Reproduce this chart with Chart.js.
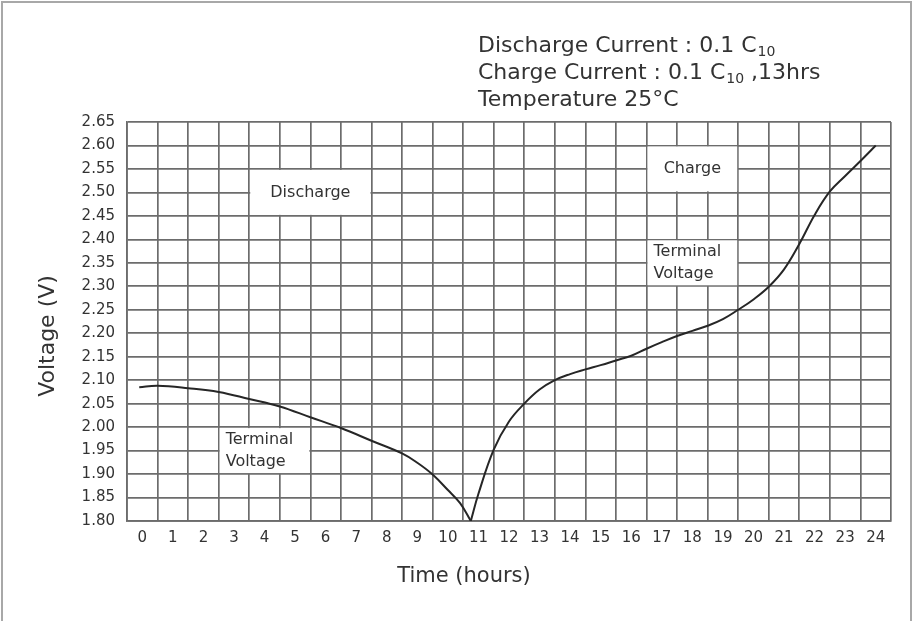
<!DOCTYPE html>
<html>
<head>
<meta charset="utf-8">
<title>Discharge / charge terminal voltage</title>
<script src="https://cdn.jsdelivr.net/npm/chart.js@4/dist/chart.umd.min.js"></script>
<style>
  html, body { margin: 0; padding: 0; background: #fff; }
  canvas { display: block; }
</style>
</head>
<body>
<canvas id="voltageChart" width="913" height="621"></canvas>
<script>
// values (hours, volts)
const dischargeTime = [-0.1, 0.5, 1.5, 2.5, 3.5, 4.5, 5.5, 6.5, 7.5, 8.5, 9.0, 9.5, 10.0, 10.4, 10.75];
const dischargeVolt = [2.085, 2.088, 2.083, 2.075, 2.060, 2.044, 2.021, 1.998, 1.971, 1.944, 1.924, 1.899, 1.866, 1.838, 1.800];
const chargeTime = [10.75, 11.0, 11.5, 12.0, 12.5, 13.0, 13.5, 14.0, 14.5, 15.0, 15.5, 16.0, 16.5, 17.0, 17.5, 18.0,
  18.5, 19.0, 19.5, 20.0, 20.5, 21.0, 21.5, 22.0, 22.5, 23.0, 23.5, 24.0];
const chargeVolt = [1.800, 1.858, 1.952, 2.012, 2.050, 2.080, 2.100, 2.113, 2.123, 2.132, 2.142, 2.152, 2.167, 2.181, 2.194, 2.205,
  2.216, 2.230, 2.250, 2.272, 2.299, 2.336, 2.390, 2.452, 2.502, 2.535, 2.567, 2.600];

const xTicks = [0, 1, 2, 3, 4, 5, 6, 7, 8, 9, 10, 11, 12, 13, 14, 15, 16, 17, 18, 19, 20, 21, 22, 23, 24];
const yTicks = [1.80, 1.85, 1.90, 1.95, 2.00, 2.05, 2.10, 2.15, 2.20, 2.25, 2.30, 2.35, 2.40, 2.45, 2.50, 2.55, 2.60, 2.65];

const headerLines = [
  ["Discharge Current : 0.1 C", "10", ""],
  ["Charge Current : 0.1 C", "10", " ,13hrs"],
  ["Temperature 25°C", "", ""]
];

// labelled boxes on the grid: [x1, x2, y1, y2, lines, align]
const noteBoxes = [
  [3.5, 7.5, 2.45, 2.55, ["Discharge"], "center"],
  [2.5, 5.5, 1.90, 2.00, ["Terminal", "Voltage"], "left"],
  [16.5, 19.5, 2.50, 2.60, ["Charge"], "center"],
  [16.5, 19.5, 2.30, 2.40, ["Terminal", "Voltage"], "left"]
];

const gridColor = "#6c6c6c";
const textColor = "#333";
const lineColor = "#262626";
const font = "DejaVu Sans";

// x grid sits between the hour labels
const gridX = [];
for (let i = 0; i <= 50; i++) gridX.push(-0.5 + i * 0.5);

function toPoints(xs, ys) {
  return xs.map((t, i) => ({ x: t, y: ys[i] }));
}

const notes = {
  id: "notes",
  beforeDatasetsDraw(chart) {
    const c = chart.ctx;
    const xs = chart.scales.x;
    const ys = chart.scales.y;
    c.save();
    noteBoxes.forEach((b) => {
      const l = xs.getPixelForValue(b[0]);
      const r = xs.getPixelForValue(b[1]);
      const t = ys.getPixelForValue(b[3]);
      const btm = ys.getPixelForValue(b[2]);
      c.fillStyle = "#fff";
      c.fillRect(l + 1, t + 1, r - l - 2, btm - t - 2);
      c.fillStyle = textColor;
      c.font = "16px '" + font + "'";
      c.textBaseline = "middle";
      const mid = (t + btm) / 2;
      const lh = 22;
      b[4].forEach((line, i) => {
        const y = mid + (i - (b[4].length - 1) / 2) * lh;
        if (b[5] == "center") {
          c.textAlign = "center";
          c.fillText(line, (l + r) / 2, y);
        } else {
          c.textAlign = "left";
          c.fillText(line, l + 7, y);
        }
      });
    });
    c.restore();
  },
  afterDraw(chart) {
    const c = chart.ctx;
    c.save();
    // frame
    c.strokeStyle = "#a8a8a8";
    c.lineWidth = 2;
    c.beginPath();
    c.moveTo(2, 621);
    c.lineTo(2, 2);
    c.lineTo(911, 2);
    c.lineTo(911, 621);
    c.stroke();

    c.fillStyle = textColor;
    c.textBaseline = "alphabetic";
    c.textAlign = "left";
    // header
    headerLines.forEach((h, i) => {
      const y = 52 + i * 27;
      let x = 478;
      c.font = "22px '" + font + "'";
      c.fillText(h[0], x, y);
      x += c.measureText(h[0]).width + 1;
      if (h[1]) {
        c.font = "14px '" + font + "'";
        c.fillText(h[1], x, y + 4);
        x += c.measureText(h[1]).width;
      }
      if (h[2]) {
        c.font = "22px '" + font + "'";
        c.fillText(h[2], x, y);
      }
    });
    // axis titles
    c.font = "21px '" + font + "'";
    c.textAlign = "center";
    c.textBaseline = "middle";
    c.fillText("Time (hours)", 464, 577);
    c.font = "22px '" + font + "'";
    c.translate(48, 336);
    c.rotate(-Math.PI / 2);
    c.fillText("Voltage (V)", 0, 0);
    c.restore();
  }
};

const lineStyle = {
  borderColor: lineColor,
  borderWidth: 2,
  pointRadius: 0,
  tension: 0.4,
  fill: false,
};

const ctx = document.getElementById("voltageChart");
const chart = new Chart(ctx, {
  type: "line",
  data: {
    datasets: [
      Object.assign({ label: "Discharge", data: toPoints(dischargeTime, dischargeVolt) }, lineStyle),
      Object.assign({ label: "Charge", data: toPoints(chargeTime, chargeVolt) }, lineStyle),
    ],
  },
  options: {
    responsive: false,
    animation: false,
    layout: { padding: { top: 122, right: 22, left: 0, bottom: 0 } },
    plugins: { legend: { display: false }, tooltip: { enabled: false } },
    scales: {
      x: {
        type: "linear",
        min: -0.5,
        max: 24.5,
        afterBuildTicks: (s) => {
          s.ticks = gridX.map((v) => ({ value: v }));
        },
        afterFit: (s) => {
          s.height = 100;
        },
        ticks: {
          autoSkip: false,
          maxRotation: 0,
          padding: 8,
          color: textColor,
          font: { family: font, size: 15 },
          callback: (v) => (xTicks.includes(v) ? String(v) : ""),
        },
        grid: {
          drawTicks: false,
          lineWidth: 1.7,
          color: (c) => (Number.isInteger(c.tick.value) ? "rgba(0,0,0,0)" : gridColor),
        },
        border: { color: gridColor, width: 1.7 },
      },
      y: {
        min: 1.8,
        max: 2.65,
        afterBuildTicks: (s) => {
          s.ticks = yTicks.map((v) => ({ value: v }));
        },
        afterFit: (s) => {
          s.width = 127;
        },
        ticks: {
          padding: 12,
          color: textColor,
          font: { family: font, size: 15 },
          callback: (v) => Number(v).toFixed(2),
        },
        grid: { drawTicks: false, lineWidth: 1.7, color: gridColor },
        border: { color: gridColor, width: 1.7 },
      },
    },
  },
  plugins: [notes],
});
</script>
</body>
</html>
